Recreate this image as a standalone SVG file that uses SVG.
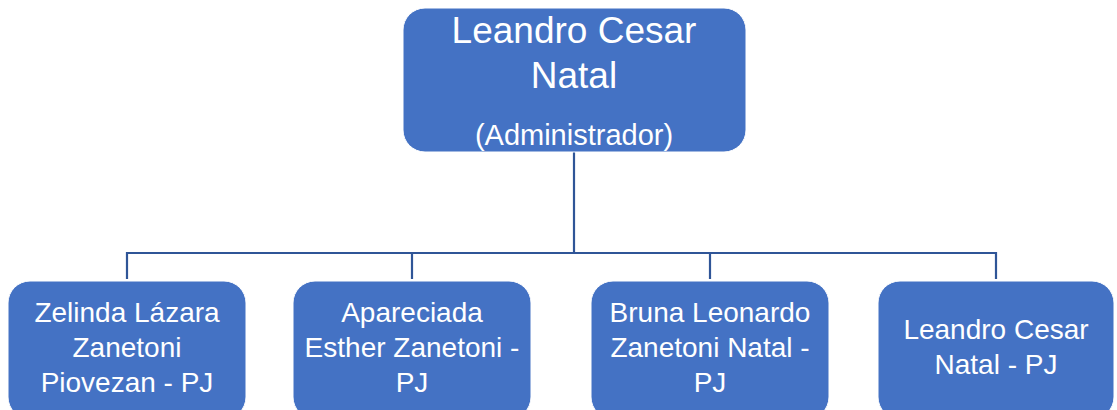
<svg xmlns="http://www.w3.org/2000/svg" width="1117" height="410" viewBox="0 0 1117 410">
  <style>
    .box { fill: #4472C4; stroke: #ffffff; stroke-width: 1; }
    .t { font-family: "Liberation Sans", Arial, sans-serif; fill: #ffffff; text-anchor: middle; }
    .big { font-size: 37px; }
    .mid { font-size: 29px; }
    .sm { font-size: 28px; }
    .conn { fill: none; stroke: #2F5597; stroke-width: 2.2; }
  </style>
  <rect width="1117" height="410" fill="#ffffff"/>
  <g id="connectors">
    <path class="conn" d="M574,152 V253"/>
    <path class="conn" d="M127,279 V253 H996 V279"/>
    <path class="conn" d="M412,279 V253"/>
    <path class="conn" d="M710,279 V253"/>
  </g>
  <g id="root">
    <rect class="box" x="403" y="8" width="343" height="144" rx="22" ry="22"/>
    <text class="t big" x="574" y="43">Leandro Cesar</text>
    <text class="t big" x="574" y="88">Natal</text>
    <text class="t mid" x="574" y="145">(Administrador)</text>
  </g>
  <g id="node1">
    <rect class="box" x="8" y="281" width="238" height="138" rx="22" ry="22"/>
    <text class="t sm" x="127" y="322">Zelinda Lázara</text>
    <text class="t sm" x="127" y="357">Zanetoni</text>
    <text class="t sm" x="127" y="392">Piovezan - PJ</text>
  </g>
  <g id="node2">
    <rect class="box" x="293" y="281" width="238" height="138" rx="22" ry="22"/>
    <text class="t sm" x="412" y="322">Apareciada</text>
    <text class="t sm" x="412" y="357">Esther Zanetoni -</text>
    <text class="t sm" x="412" y="392">PJ</text>
  </g>
  <g id="node3">
    <rect class="box" x="591" y="281" width="238" height="138" rx="22" ry="22"/>
    <text class="t sm" x="710" y="322">Bruna Leonardo</text>
    <text class="t sm" x="710" y="357">Zanetoni Natal -</text>
    <text class="t sm" x="710" y="392">PJ</text>
  </g>
  <g id="node4">
    <rect class="box" x="878" y="281" width="236" height="138" rx="22" ry="22"/>
    <text class="t sm" x="996" y="339">Leandro Cesar</text>
    <text class="t sm" x="996" y="374">Natal - PJ</text>
  </g>
</svg>
